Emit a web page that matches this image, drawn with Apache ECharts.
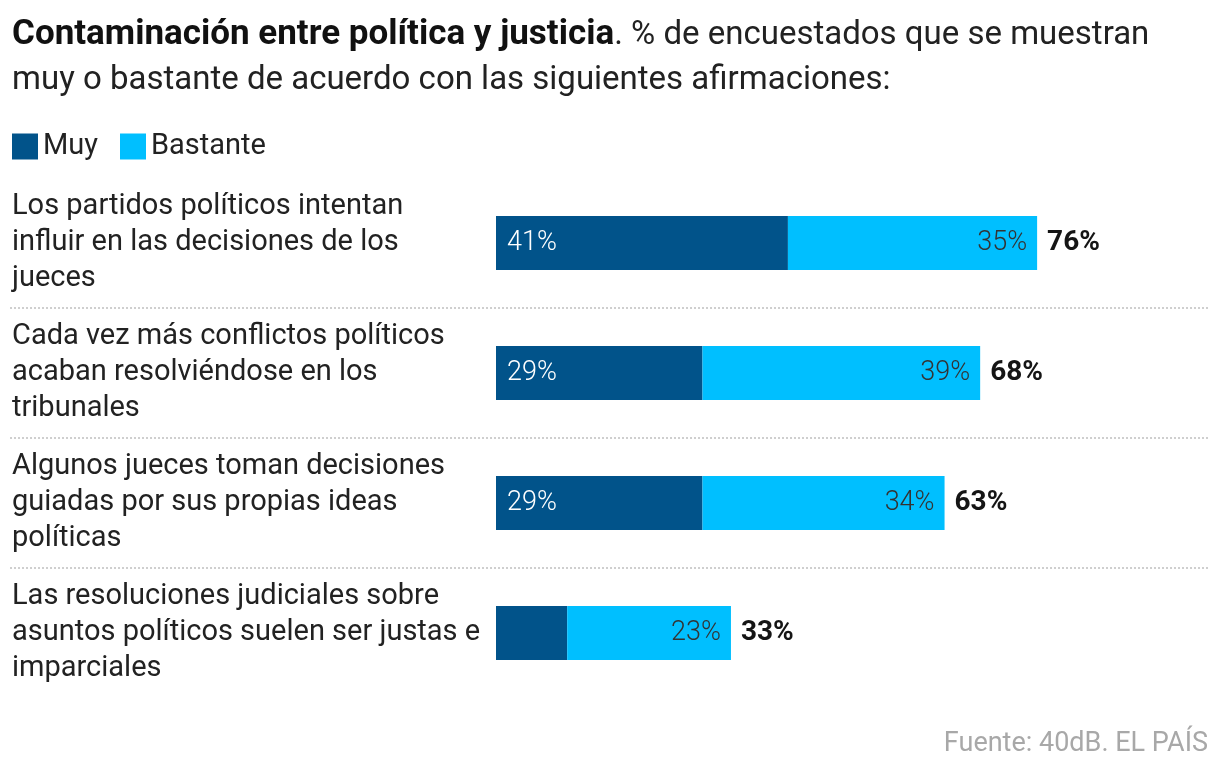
<!DOCTYPE html>
<html>
<head>
<meta charset="utf-8">
<script src="https://cdn.jsdelivr.net/npm/echarts@6/dist/echarts.min.js"></script>
<style>
  html, body { margin: 0; padding: 0; background: #fff; }
  #chart { width: 1220px; height: 772px; }
</style>
</head>
<body>
<div id="chart"></div>
<script>
// afirmaciones (con saltos de línea como en el original)
const categories = [
  'Los partidos políticos intentan\ninfluir en las decisiones de los\njueces',
  'Cada vez más conflictos políticos\nacaban resolviéndose en los\ntribunales',
  'Algunos jueces toman decisiones\nguiadas por sus propias ideas\npolíticas',
  'Las resoluciones judiciales sobre\nasuntos políticos suelen ser justas e\nimparciales'
]
const muy = [41, 29, 29, 10]
const bastante = [35, 39, 34, 23]
const totals = [76, 68, 63, 33]

const FONT = 'Roboto, "Noto Sans", sans-serif'
const DARK = '#01538a'
const LIGHT = '#00bfff'

const chart = echarts.init(document.getElementById('chart'))

const gridTop = 178
const gridHeight = 520

const option = {
  backgroundColor: '#fff',
  textStyle: { fontFamily: FONT },
  title: [
    {
      left: 12,
      top: 13,
      padding: 0,
      text: '{b|Contaminación entre política y justicia}{r|. % de encuestados que se muestran}\n{r|muy o bastante de acuerdo con las siguientes afirmaciones:}',
      textStyle: {
        fontWeight: 'normal',
        rich: {
          b: { fontFamily: FONT, fontSize: 35, fontWeight: 'bold', color: '#111', lineHeight: 45 },
          r: { fontFamily: FONT, fontSize: 33, fontWeight: 'normal', color: '#222', lineHeight: 45 }
        }
      }
    },
    {
      right: 12,
      bottom: 14,
      padding: 0,
      text: 'Fuente: 40dB. EL PAÍS',
      textStyle: { fontFamily: FONT, fontSize: 27, fontWeight: 'normal', color: '#a8a8a8' }
    }
  ],
  legend: {
    left: 12,
    top: 132,
    padding: 0,
    data: ['Muy', 'Bastante'],
    icon: 'rect',
    itemWidth: 26,
    itemHeight: 26,
    itemGap: 22,
    textStyle: { fontFamily: FONT, fontSize: 29, color: '#222' },
    selectedMode: false
  },
  grid: [
    { left: 496, width: 712, top: gridTop, height: gridHeight },
    { left: 10, width: 1198, top: gridTop, height: gridHeight }
  ],
  xAxis: [
    { gridIndex: 0, type: 'value', min: 0, max: 100, show: false },
    { gridIndex: 1, type: 'value', min: 0, max: 100, show: false }
  ],
  yAxis: [
    {
      gridIndex: 0,
      type: 'category',
      inverse: true,
      data: categories,
      axisLine: { show: false },
      axisTick: { show: false },
      splitLine: { show: false },
      axisLabel: {
        align: 'left',
        margin: 484,
        fontFamily: FONT,
        fontSize: 29,
        lineHeight: 36,
        color: '#222'
      }
    },
    {
      gridIndex: 1,
      type: 'category',
      inverse: true,
      data: categories,
      axisLine: { show: false },
      axisTick: { show: false },
      axisLabel: { show: false },
      splitLine: {
        show: true,
        showMinLine: false,
        showMaxLine: false,
        lineStyle: { color: '#cfcfcf', type: [2, 2], width: 2 }
      }
    }
  ],
  series: [
    {
      name: 'Total',
      type: 'bar',
      data: totals,
      barWidth: 54,
      barGap: '-100%',
      itemStyle: { color: 'rgba(0,0,0,0)' },
      silent: true,
      label: {
        show: true,
        position: 'right',
        distance: 10,
        formatter: p => p.value + '%',
        fontFamily: FONT,
        fontSize: 28,
        fontWeight: 'bold',
        color: '#151515'
      }
    },
    {
      name: 'Muy',
      type: 'bar',
      stack: 'a',
      data: muy,
      barWidth: 54,
      barGap: '-100%',
      itemStyle: { color: DARK },
      label: {
        show: true,
        position: 'insideLeft',
        distance: 11,
        formatter: p => (p.value >= 15 ? p.value + '%' : ''),
        fontFamily: FONT,
        fontSize: 27,
        fontWeight: 300,
        color: '#fff'
      }
    },
    {
      name: 'Bastante',
      type: 'bar',
      stack: 'a',
      data: bastante,
      barWidth: 54,
      barGap: '-100%',
      itemStyle: { color: LIGHT },
      label: {
        show: true,
        position: 'insideRight',
        distance: 10,
        formatter: p => p.value + '%',
        fontFamily: FONT,
        fontSize: 27,
        fontWeight: 300,
        color: '#333'
      }
    }
  ]
}

chart.setOption(option)
</script>
</body>
</html>
